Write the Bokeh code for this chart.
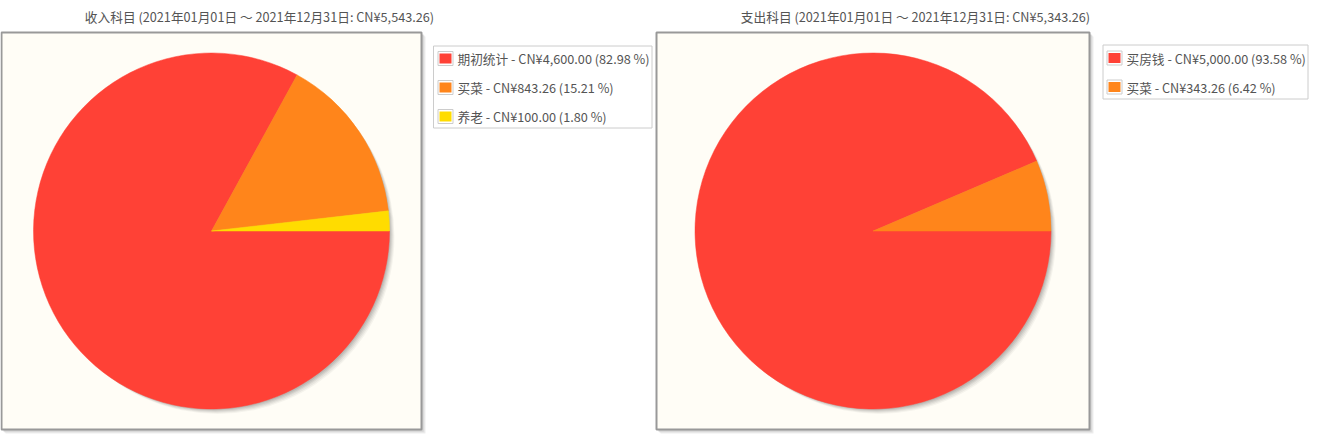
from bokeh.plotting import figure
from bokeh.models import Range1d, ColumnDataSource
from bokeh.core.properties import value
from bokeh.embed import file_html
from bokeh.resources import INLINE
import numpy as np

# ---------------- data ----------------
income_titles = "收入科目"
income_names = ["期初统计", "买菜", "养老"]
income_values = [4600.00, 843.26, 100.00]
expense_titles = "支出科目"
expense_names = ["买房钱", "买菜"]
expense_values = [5000.00, 343.26]
period = "2021年01月01日 ～ 2021年12月31日"
colors = ["#FF4136", "#FF851B", "#FFDC00"]

W, H = 1320, 436
FONT = value("Noto Sans CJK SC")
TXT = "#545454"

p = figure(width=W, height=H, output_backend="svg", toolbar_location=None,
           x_range=Range1d(0, W), y_range=Range1d(0, H),
           x_axis_location=None, y_axis_location=None, min_border=0,
           outline_line_color=None, background_fill_color="white",
           border_fill_color="white", margin=(0, 0, 0, 0))
p.grid.visible = False


def Y(v):
    return H - v


def panel(box, names, vals, title_name, title_cx, legend_box, legend_rows_y, text_x, sw_x):
    bl, bt, br, bb = box
    # box shadow
    for off, c in [(4, "#eeeeee"), (3, "#e2e2e2"), (2, "#d0d0d0")]:
        p.quad(left=bl + off, right=br + off, top=Y(bt + off), bottom=Y(bb + off),
               fill_color=c, line_color=None)
    p.quad(left=bl, right=br, top=Y(bt), bottom=Y(bb), fill_color="#FFFDF6",
           line_color="#999999", line_width=2)
    cx = (bl + br) / 2
    cy = (bt + bb) / 2
    r = 178
    # pie shadow
    for d, a in [(6, 0.04), (5, 0.05), (4, 0.06), (3, 0.07), (2, 0.08)]:
        p.circle(x=[cx + d], y=[Y(cy + d)], radius=r - 1, fill_color="black",
                 fill_alpha=a, line_color=None)
    v = np.array(vals, dtype=float)
    frac = v / v.sum()
    cum = np.concatenate([[0], np.cumsum(frac)]) * 2 * np.pi
    src = ColumnDataSource(dict(
        start=list(-cum[1:]), end=list(-cum[:-1]), color=colors[:len(vals)]))
    p.wedge(x=cx, y=Y(cy), radius=r, start_angle="start", end_angle="end",
            fill_color="color", line_color="color", line_width=0.5, source=src)
    # title
    total = v.sum()
    p.text(x=[title_cx], y=[Y(16)], text=[f"{title_name} ({period}: CN¥{total:,.2f})"],
           text_font=FONT, text_font_size="12.7px", text_color=TXT,
           text_align="center", text_baseline="middle")
    # legend
    ll, lt, lr, lb = legend_box
    p.quad(left=ll, right=lr, top=Y(lt), bottom=Y(lb), fill_color="white",
           line_color="#cccccc", line_width=1)
    labels = [f"{n} - CN¥{x:,.2f} ({f * 100:.2f} %)" for n, x, f in zip(names, vals, frac)]
    ys = [Y(yy) for yy in legend_rows_y]
    p.rect(x=[sw_x] * len(ys), y=ys, width=15, height=14, fill_color="white",
           line_color="#cccccc", line_width=1)
    p.rect(x=[sw_x] * len(ys), y=ys, width=12, height=10, fill_color=colors[:len(vals)],
           line_color=None)
    p.text(x=[text_x] * len(ys), y=ys, text=labels, text_font=FONT,
           text_font_size="12.7px", text_color=TXT, text_align="left",
           text_baseline="middle")


panel((1, 32, 421, 429), income_names, income_values, income_titles, 259,
      (433, 45.5, 651.5, 127.5), [58, 87, 116], 457, 445)
panel((656, 32, 1089, 429), expense_names, expense_values, expense_titles, 915,
      (1102.5, 44.5, 1307.5, 98.5), [57.5, 86.5], 1126, 1114)

open("out.html", "w").write(file_html(p, INLINE))
